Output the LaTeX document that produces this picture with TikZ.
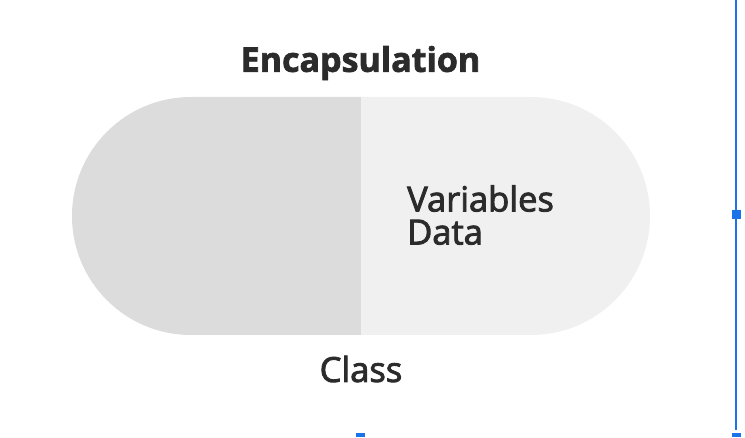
\documentclass[tikz,border=0pt]{standalone}
\usepackage{fontspec}
\setmainfont{Open Sans}
\newfontfamily\semib[FakeBold=2.5]{Open Sans}
\newfontfamily\heavy[FakeBold=2]{Open Sans Bold}
\definecolor{capleft}{HTML}{DCDCDC}
\definecolor{capright}{HTML}{F0F0F0}
\definecolor{txt}{HTML}{2B2B2B}
\definecolor{handle}{RGB}{26,115,232}
\begin{document}
\begin{tikzpicture}[x=1pt, y=1pt]
  \tikzstyle{label} = [text=txt, inner sep=0pt, font=\semib\fontsize{34.5}{33}\selectfont]
  \tikzstyle{heading} = [text=txt, inner sep=0pt, font=\heavy\fontsize{34}{36}\selectfont]

  \useasboundingbox (0,0) rectangle (745,437);

  % capsule halves
  \fill[capleft] (361,340) -- (191,340) arc[start angle=90, end angle=270, radius=119] -- (361,102) -- cycle;
  \fill[capright] (361,340) -- (531,340) arc[start angle=90, end angle=-90, radius=119] -- (361,102) -- cycle;

  \node (title) [heading] at (360.5,374) {Encapsulation};
  \node (fields) [label, anchor=west, align=left] at (407,222) {Variables\\Data};
  \node (cls) [label] at (361,68) {Class};

  % selection handles
  \coordinate (top) at (736,437);
  \coordinate (bot) at (736,7);
  \draw[handle, line width=1.2pt] (top) -- (bot);
  \fill[handle] (731.5,218) rectangle (740.5,227);
  \fill[handle] (731.5,0) rectangle (740.5,4);
  \fill[handle] (356,0) rectangle (365,4);
\end{tikzpicture}
\end{document}
